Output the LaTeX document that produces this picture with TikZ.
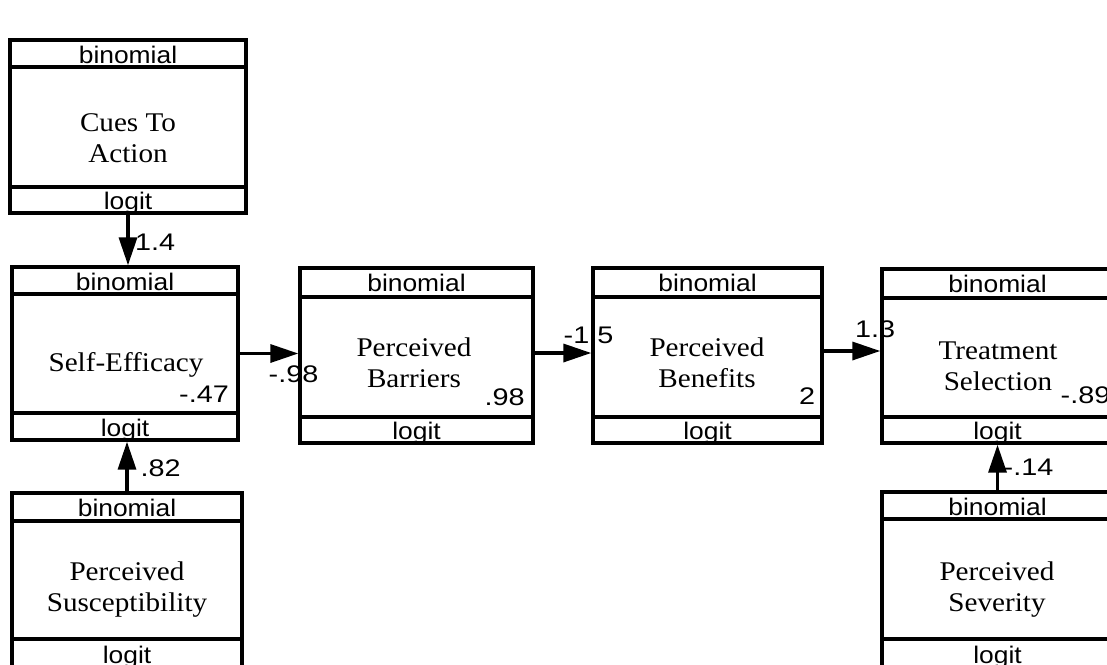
\documentclass[tikz,border=0pt]{standalone}
\usepackage{fontspec}
\setmainfont{Liberation Serif}[FakeStretch=1.08]
\newfontfamily\labfont{Liberation Sans}[FakeStretch=1.1]
\newfontfamily\numfont{Liberation Sans}[FakeStretch=1.2]
\usetikzlibrary{arrows.meta}
\tikzset{
  frame/.style={draw=black, line width=3.4pt, inner sep=0pt, rectangle},
  divider/.style={draw=black, line width=3.4pt},
  sanslab/.style={font=\labfont\fontsize{24}{28}\selectfont, inner sep=0pt, anchor=base},
  bodytext/.style={font=\fontsize{27}{31}\selectfont, align=center, inner sep=0pt},
  num/.style={font=\numfont\fontsize{24}{28}\selectfont, inner sep=0pt, anchor=base west},
  arr/.style={draw=black, line width=3.4pt, -{Triangle[length=28pt,width=18pt]}}
}
\newcommand\modelbox[7]{%
  \pgfmathsetmacro\cx{(#2+#4)/2}%
  \pgfmathsetmacro\cy{(#3+#5)/2}%
  \pgfmathsetmacro\bw{#4-#2}%
  \pgfmathsetmacro\bh{#5-#3}%
  \node[frame, minimum width=\bw pt, minimum height=\bh pt] (#1) at (\cx,\cy) {};
  \draw[divider] (#2,#6) -- (#4,#6);
  \draw[divider] (#2,#7) -- (#4,#7);
  \node[sanslab] (#1-h) at (\cx,#3+23) {binomial};
  \node[sanslab] (#1-f) at (\cx,#5-3.5) {logit};
}
\begin{document}
\begin{tikzpicture}[x=1pt,y=-1pt]
\useasboundingbox (0,0) rectangle (1107,664);
\clip (0,0) rectangle (1107,664);
\fill[white] (0,0) rectangle (1107,664);

\modelbox{cues}{10}{40}{246}{213}{67}{187}
\modelbox{se}{12}{267}{238}{440}{294}{413}
\modelbox{pb}{300}{268}{533}{443}{297}{417}
\modelbox{pben}{593}{268}{822}{443}{297}{417}
\modelbox{ts}{882}{269}{1113}{443}{298}{417}
\modelbox{ps}{12}{493}{242}{667}{521}{639}
\modelbox{sev}{882}{492}{1113}{667}{519}{639}

\node[bodytext] (cues-n) at (128,138) {Cues To\\Action};
\node[bodytext] (se-n) at (126,365) {Self-Efficacy};
\node[bodytext] (pb-n) at (414,362.5) {Perceived\\Barriers};
\node[bodytext] (pben-n) at (707,363) {Perceived\\Benefits};
\node[bodytext] (ts-n) at (998,366) {Treatment\\Selection};
\node[bodytext] (ps-n) at (127,590) {Perceived\\Susceptibility};
\node[bodytext] (sev-n) at (997,590) {Perceived\\Severity};

\draw[arr] (cues.south) -- (cues.south |- se.north);
\draw[arr] (se.east) -- (se.east -| pb.west);
\draw[arr] ([yshift=2.5pt]pb.east) -- ([yshift=2.5pt]pb.east -| pben.west);
\draw[arr] ([yshift=4.5pt]pben.east) -- ([yshift=4.5pt]pben.east -| ts.west);
\draw[arr] (ps.north) -- (ps.north |- se.south);
\draw[arr] (sev.north) -- (sev.north |- ts.south);

\node[num] (l1) at (135,250) {1.4};
\node[num] (l2) at (179,402) {-.47};
\node[num] (l3) at (140.5,476) {.82};
\node[num] (l4) at (268.5,382) {-.98};
\node[num] (l5) at (484.5,405) {.98};
\node[num] (l6) at (563.5,343) {-1.5};
\node[num] (l7) at (799,404) {2};
\node[num] (l8) at (855,337) {1.3};
\node[num] (l9) at (1060.5,403) {-.89};
\node[num] (l10) at (1003.5,475) {-.14};
\end{tikzpicture}
\end{document}
